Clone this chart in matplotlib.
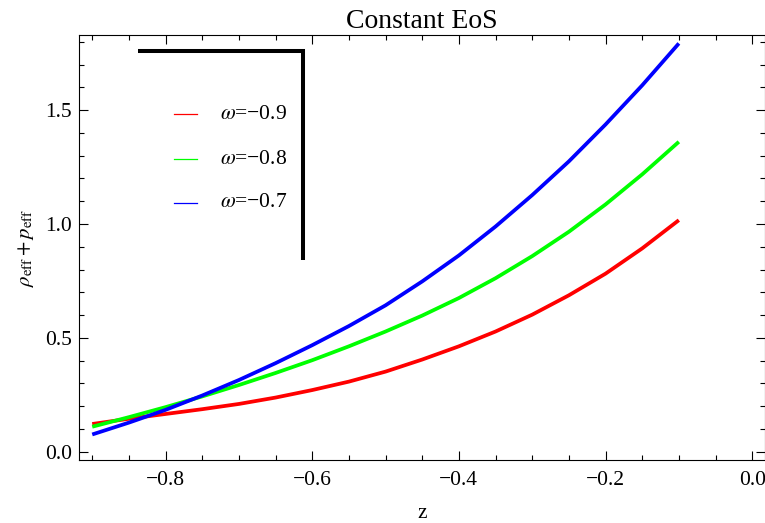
#!/usr/bin/env python3
# rho_eff + p_eff against redshift for three constant equation-of-state values
import matplotlib
matplotlib.use("Agg")
import matplotlib.pyplot as plt
from matplotlib.ticker import MultipleLocator, FuncFormatter

z = [-0.9, -0.85, -0.8, -0.75, -0.7, -0.65, -0.6, -0.55, -0.5,
     -0.45, -0.4, -0.35, -0.3, -0.25, -0.2, -0.15, -0.1]
w_m09 = [0.122, 0.145, 0.166, 0.187, 0.210, 0.238, 0.271, 0.308, 0.352,
         0.405, 0.463, 0.528, 0.602, 0.687, 0.782, 0.893, 1.017]
w_m08 = [0.110, 0.152, 0.196, 0.243, 0.293, 0.346, 0.402, 0.463, 0.528,
         0.598, 0.675, 0.762, 0.859, 0.966, 1.086, 1.218, 1.361]
w_m07 = [0.076, 0.128, 0.184, 0.247, 0.315, 0.389, 0.468, 0.552, 0.643,
         0.748, 0.862, 0.989, 1.127, 1.275, 1.437, 1.609, 1.793]

series = [w_m09, w_m08, w_m07]
labels = ["\u22120.9", "\u22120.8", "\u22120.7"]
colors = ["#ff0000", "#00ff00", "#0000ff"]

plt.rcParams["font.family"] = ["Liberation Serif", "DejaVu Serif"]
plt.rcParams["mathtext.fontset"] = "stix"

fig = plt.figure(figsize=(7.65, 5.23), dpi=100)
ax = fig.add_axes([0.1033, 0.1205, 0.8972, 0.8126])

for ys, c in zip(series, colors):
    ax.plot(z, ys, color=c, lw=2.7, solid_capstyle="butt",
            solid_joinstyle="round")

ax.set_xlim(-0.918, 0.018)
ax.set_ylim(-0.036, 1.83)

ax.xaxis.set_major_locator(MultipleLocator(0.2))
ax.xaxis.set_minor_locator(MultipleLocator(0.05))
ax.yaxis.set_major_locator(MultipleLocator(0.5))
ax.yaxis.set_minor_locator(MultipleLocator(0.1))

def fmt(v, pos):
    s = f"{v:.1f}"
    if s == "-0.0":
        s = "0.0"
    return s.replace("-", "\u2212")

ax.xaxis.set_major_formatter(FuncFormatter(fmt))
ax.yaxis.set_major_formatter(FuncFormatter(fmt))

ax.tick_params(which="both", direction="in", top=True, right=True,
               width=0.8, labelsize=15.5, colors="black")
ax.tick_params(which="major", length=6.2)
ax.tick_params(which="minor", length=3.8)
ax.tick_params(axis="x", pad=8)
ax.tick_params(axis="y", pad=5)
for sp in ax.spines.values():
    sp.set_linewidth(0.8)

ax.set_title("Constant EoS", fontsize=20, pad=5)
ax.set_xlabel("z", fontsize=15.5)
ax.xaxis.set_label_coords(0.5, -0.104)
ax.set_ylabel(r"$\rho_{\rm eff}+p_{\rm eff}$", fontsize=15)
ax.yaxis.set_label_coords(-0.062, 0.5)

# legend: short line samples with labels, framed on top and right
leg_y = [0.814, 0.708, 0.605]
for y, c, lab in zip(leg_y, colors, labels):
    ax.plot([0.1384, 0.1719], [y, y], color=c, lw=0.9, transform=ax.transAxes)
    ax.text(0.2054, y, r"$\omega$=" + lab, fontsize=15.5, va="center",
            ha="left", transform=ax.transAxes)
ax.plot([0.086, 0.3263, 0.3263], [0.9624, 0.9624, 0.4706], color="black",
        lw=2.9, solid_joinstyle="miter", solid_capstyle="butt",
        transform=ax.transAxes, clip_on=False)

fig.savefig("out.png", dpi=100)
